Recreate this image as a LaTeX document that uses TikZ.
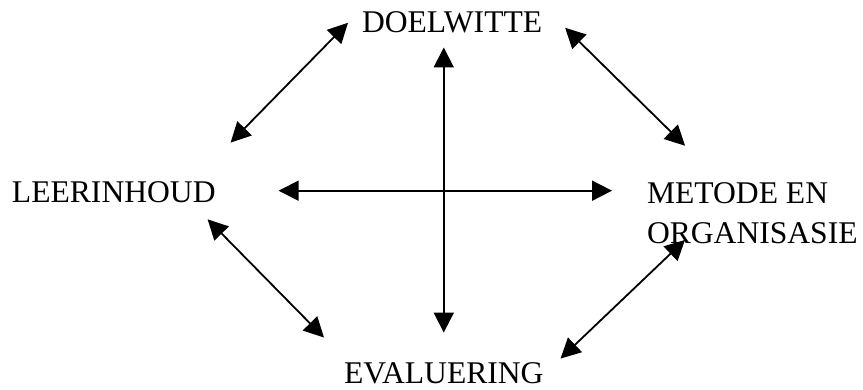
\documentclass[tikz,border=0pt]{standalone}
\usepackage{fontspec}
\setmainfont{Liberation Serif}
\usepackage{tikz}
\usetikzlibrary{arrows.meta,positioning,calc}
\tikzset{
  teks/.style={inner sep=0pt, outer sep=0pt, align=left, font=\fontsize{31.6}{40.5}\selectfont},
  arr/.style={{Triangle[length=20pt,width=20pt]}-{Triangle[length=20pt,width=20pt]}, line width=1.8pt, draw=black},
}
\begin{document}
\begin{tikzpicture}[x=1pt, y=1pt]
        \useasboundingbox (0,0) rectangle (863,389);
        \node[teks, anchor=base west] (doel) at (362,356) {DOELWITTE};
        \node[teks, anchor=base west] (leer) at (12,186) {LEERINHOUD};
        \node[teks, anchor=north west] (metode) at (647,206.8) {METODE EN\\ORGANISASIE};
        \node[teks, anchor=base west] (eval) at (344,5.5) {EVALUERING};
        % kruis
        \draw[arr] ($(eval.north)+(0,30)$) -- ($(eval.north |- doel.south)+(0,-14)$);
        \draw[arr] ($(leer.east)+(63,2)$) -- ($(leer.east -| metode.west)+(-35,2)$);
        % skuins
        \draw[arr] ($(leer.north east)+(15,39.5)$) -- ($(doel.west)+(-14,0)$);
        \draw[arr] ($(doel.east)+(23,-5)$) -- ($(metode.north west)+(38,36.5)$);
        \draw[arr] ($(leer.south east)+(-8,-16)$) -- ($(eval.north west)+(-20,25)$);
        \draw[arr] ($(metode.south west)+(38,4)$) -- ($(eval.north east)+(17,4)$);
      \end{tikzpicture}
\end{document}
